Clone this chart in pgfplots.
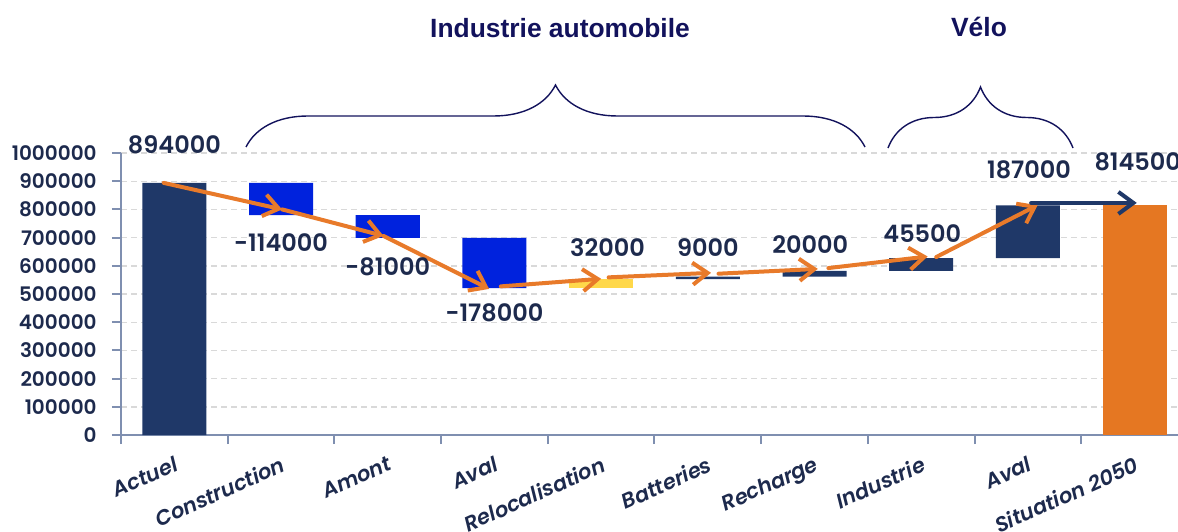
\documentclass[border=0pt]{standalone}
\usepackage{fontspec}
\setmainfont{Poppins}[UprightFont={* SemiBold}, ItalicFont={* SemiBold Italic}, BoldFont={* Bold}, BoldItalicFont={* Bold Italic}]
\newfontfamily\titlefont{Liberation Sans}
\usepackage{pgfplots}
\usepackage{pgfplotstable}
\pgfplotsset{compat=1.18}
\usetikzlibrary{arrows.meta, decorations.pathreplacing}

\definecolor{navy}{HTML}{1F3868}
\definecolor{vivid}{HTML}{0022DD}
\definecolor{sun}{HTML}{FFD84A}
\definecolor{total}{HTML}{E57722}
\definecolor{flow}{HTML}{E87A2A}
\definecolor{ink}{HTML}{1D2A4D}
\definecolor{axiscol}{HTML}{7F8FB0}
\definecolor{gridcol}{HTML}{D9D9D9}
\definecolor{headcol}{HTML}{12125C}

% floating bars: invisible base + visible step, one column per colour
\pgfplotstableread{
x base    navy   vivid  sun    total
0 0       894000 0      0      0
1 780000  0      114000 0      0
2 699000  0      81000  0      0
3 521000  0      178000 0      0
4 521000  0      0      32000  0
5 553000  9000   0      0      0
6 562000  20000  0      0      0
7 582000  45500  0      0      0
8 627500  187000 0      0      0
9 0       0      0      0      814500
}\steps

\pgfplotsset{
  frame/.style={
    scale only axis, width=533.5pt, height=141pt,
    xmin=-0.5, xmax=9.5, ymin=0, ymax=1000000,
    enlargelimits=false, clip=false,
    at={(60.5pt,48pt)}, anchor=south west,
  },
}
\tikzset{
  flowline/.style={draw=flow, line width=2pt, line cap=round,
    -{Straight Barb[length=7.5pt,width=11pt,line width=2pt]}},
  vlabel/.style={text=ink, font=\fontsize{12}{14}\selectfont, inner sep=0pt},
}

\begin{document}
\begin{tikzpicture}
\path[use as bounding box] (0,0) rectangle (589pt,265.5pt);

% bars, grid and value axis
\begin{axis}[frame,
  axis x line*=bottom, axis y line*=left,
  axis line style={draw=axiscol, line width=1pt},
  tick align=outside,
  major tick length=4.5pt,
  xtick={-0.5,0.5,1.5,2.5,3.5,4.5,5.5,6.5,7.5,8.5,9.5},
  xticklabels={},
  xtick style={draw=axiscol, line width=1pt},
  ytick={0,100000,200000,300000,400000,500000,600000,700000,800000,900000,1000000},
  ytick style={draw=axiscol, line width=1pt},
  scaled y ticks=false,
  yticklabel style={/pgf/number format/.cd, fixed, 1000 sep={}, assume math mode=true, /tikz/.cd,
    text=ink, font=\fontsize{10}{12}\selectfont, inner sep=0pt, xshift=-7.5pt},
  ymajorgrids,
  major grid style={draw=gridcol, line width=0.7pt, dash pattern=on 3pt off 2pt},
  ybar stacked, bar width=32pt,
]
\addplot[fill=none, draw=none] table[x=x, y=base] {\steps};
\addplot[fill=navy, draw=none] table[x=x, y=navy] {\steps};
\addplot[fill=vivid, draw=none] table[x=x, y=vivid] {\steps};
\addplot[fill=sun, draw=none] table[x=x, y=sun] {\steps};
\addplot[fill=total, draw=none] table[x=x, y=total] {\steps};
\end{axis}

% category labels, flow arrows and values
\begin{axis}[frame,
  axis x line*=bottom, axis y line=none,
  axis line style={draw=none},
  xtick={0,...,9},
  xticklabels={Actuel, Construction, Amont, Aval, Relocalisation, Batteries, Recharge, Industrie, Aval, Situation 2050},
  xtick style={draw=none},
  xticklabel style={rotate=24, anchor=north east, text=ink,
    font=\itshape\fontsize{10.5}{12}\selectfont, inner sep=0pt, xshift=-4.5pt, yshift=-9pt},
]
\addplot[flowline] coordinates {(-0.1,894000) (1.01,800000)};
\addplot[flowline] coordinates {(1.01,800000) (1.96,706000)};
\addplot[flowline] coordinates {(1.96,706000) (2.95,518000)};
\addplot[flowline] coordinates {(3.06,527000) (4.0,554000)};
\addplot[flowline] coordinates {(4.07,559000) (5.03,575000)};
\addplot[flowline] coordinates {(5.1,572000) (6.03,589000)};
\addplot[flowline] coordinates {(6.13,592000) (7.06,633000)};
\addplot[flowline] coordinates {(7.14,631000) (8.09,815000)};
\addplot[draw=navy, line width=2pt, line cap=round,
  -{Straight Barb[length=7.5pt,width=11pt,line width=2pt]}]
  coordinates {(8.03,823000) (9.02,823000)};

\node[vlabel] at (axis cs:0,1028000) {894000};
\node[vlabel] at (axis cs:1,684000) {-114000};
\node[vlabel] at (axis cs:2,596000) {-81000};
\node[vlabel] at (axis cs:3,433000) {-178000};
\node[vlabel] at (axis cs:4.06,663000) {32000};
\node[vlabel] at (axis cs:5,663000) {9000};
\node[vlabel] at (axis cs:5.96,674000) {20000};
\node[vlabel] at (axis cs:7.01,716000) {45500};
\node[vlabel] at (axis cs:8.01,940000) {187000};
\node[vlabel, anchor=west] at (axis cs:8.62,968000) {814500};
\end{axis}

% group headings with braces
\node[text=headcol, font=\titlefont\bfseries\fontsize{13.2}{15}\selectfont] at (280pt,251.5pt) {Industrie automobile};
\node[text=headcol, font=\titlefont\bfseries\fontsize{13.2}{15}\selectfont] at (489.5pt,252pt) {Vélo};
\draw[headcol, line width=0.7pt, decorate, decoration={brace, amplitude=31pt}] (123pt,192pt) -- (432.5pt,192pt);
\draw[headcol, line width=0.7pt, decorate, decoration={brace, amplitude=30.5pt}] (444pt,191.5pt) -- (536.5pt,191.5pt);
\end{tikzpicture}
\end{document}
